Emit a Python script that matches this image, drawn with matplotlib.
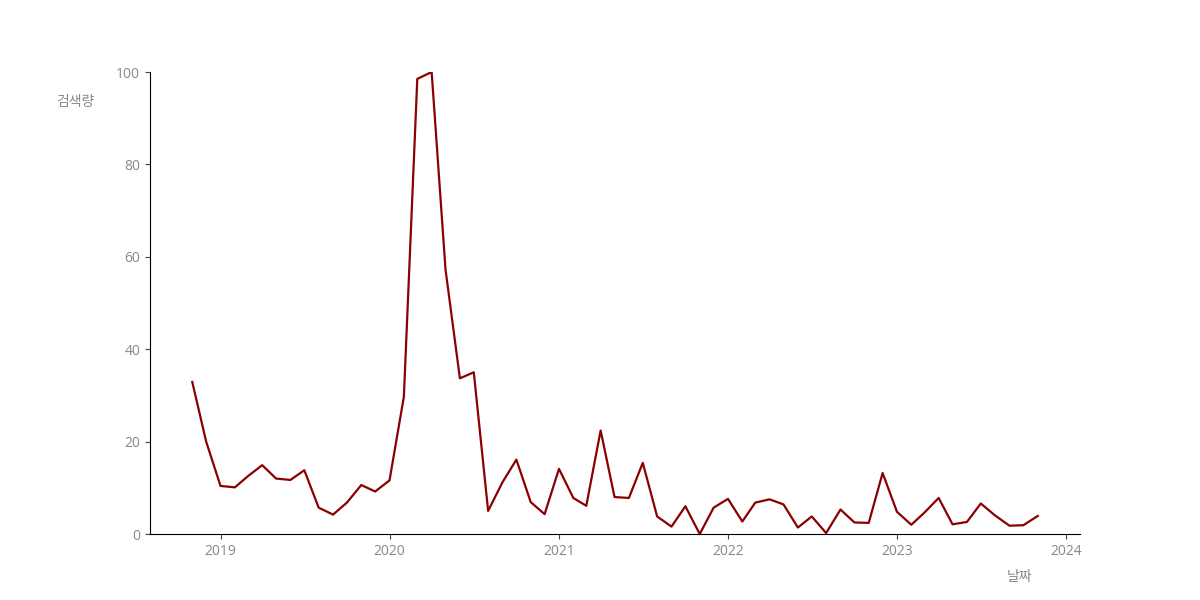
import numpy as np
import pandas as pd
import matplotlib
matplotlib.use('Agg')
from matplotlib import pyplot as plt
import matplotlib.dates as mdates

plt.rcParams['font.family'] = ['Open Sans', 'Noto Sans CJK KR', 'DejaVu Sans']

# 월별 검색량 (2018-11 ~ 2023-11)
dates = pd.date_range('2018-11-01', periods=61, freq='MS')
values = [32.9, 20.0, 10.4, 10.1, 12.5, 14.9, 12.0, 11.7, 13.8, 5.7,
          4.2, 6.8, 10.6, 9.2, 11.6, 29.7, 98.5, 100.0, 57.2, 33.7,
          35.0, 5.0, 11.2, 16.1, 6.9, 4.3, 14.1, 7.8, 6.1, 22.4,
          8.0, 7.8, 15.4, 3.8, 1.6, 6.0, 0.0, 5.7, 7.6, 2.7,
          6.8, 7.5, 6.4, 1.4, 3.8, 0.2, 5.3, 2.5, 2.4, 13.2,
          4.8, 2.0, 4.6, 7.8, 2.1, 2.6, 6.6, 4.0, 1.8, 1.9,
          3.9]

fig, ax = plt.subplots(figsize=(12, 6), dpi=100)
ax.plot(dates, values, color='#8B0000', linewidth=1.6)

ax.set_ylim(0, 100)
ax.xaxis.set_major_locator(mdates.YearLocator())
ax.xaxis.set_major_formatter(mdates.DateFormatter('%Y'))

ax.spines['top'].set_visible(False)
ax.spines['right'].set_visible(False)
ax.tick_params(colors='#888888', labelsize=10)
ax.tick_params(axis='both', color='#444444')

ax.set_ylabel('검색량', rotation=0, color='#888888', fontsize=10)
ax.yaxis.set_label_coords(-0.08, 0.918)
ax.set_xlabel('날짜', color='#888888', fontsize=10)
ax.xaxis.set_label_coords(0.935, -0.078)

plt.savefig('out.png')
